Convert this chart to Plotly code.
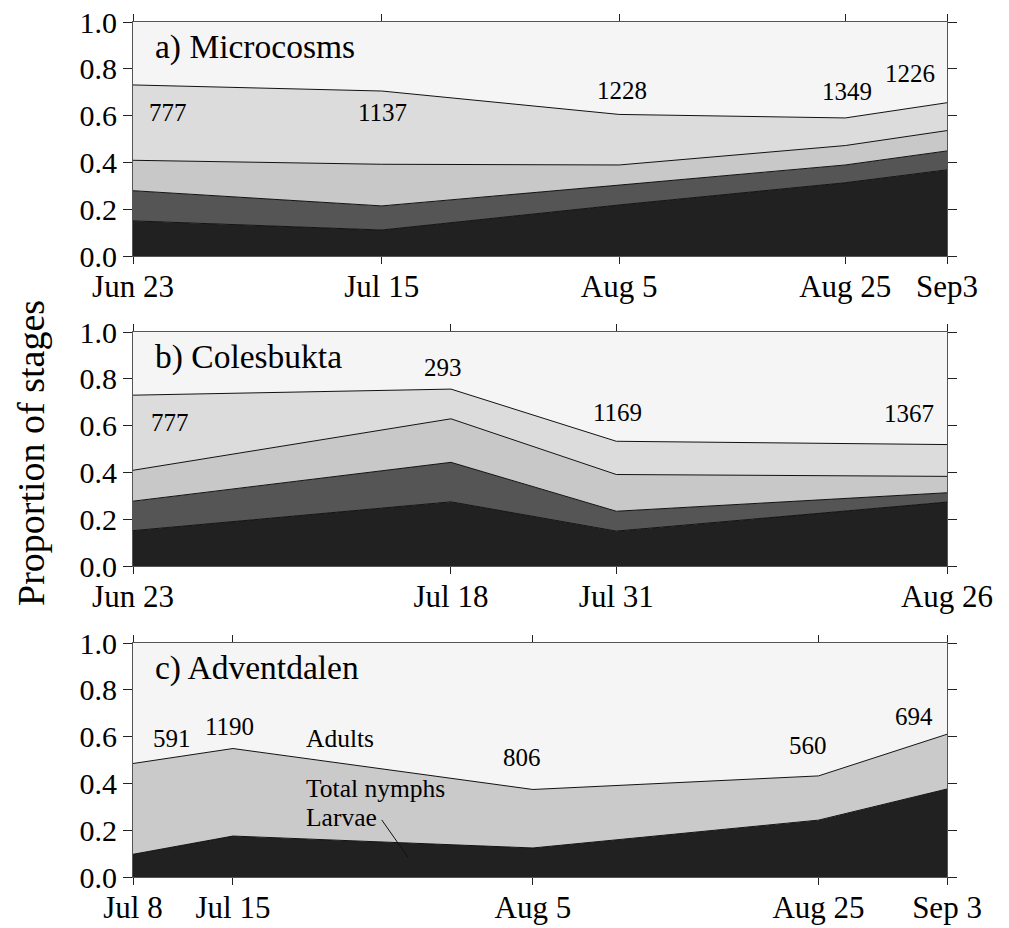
import plotly.graph_objects as go

# ---------------- data ----------------
stage_names = ["Larvae", "Nymph I", "Nymph II", "Nymph III", "Adults"]

# a) Microcosms
dates_a = ["2000-06-23", "2000-07-15", "2000-08-05", "2000-08-25", "2000-09-03"]
ticks_a = ["Jun 23", "Jul 15", "Aug 5", "Aug 25", "Sep3"]
larvae_a = [0.150, 0.111, 0.218, 0.313, 0.368]
n1_a = [0.129, 0.103, 0.085, 0.076, 0.081]
n2_a = [0.130, 0.178, 0.086, 0.083, 0.087]
n3_a = [0.322, 0.313, 0.216, 0.118, 0.119]
adults_a = [0.269, 0.295, 0.395, 0.410, 0.345]
counts_a = ["777", "1137", "1228", "1349", "1226"]

# b) Colesbukta
dates_b = ["2000-06-23", "2000-07-18", "2000-07-31", "2000-08-26"]
ticks_b = ["Jun 23", "Jul 18", "Jul 31", "Aug 26"]
larvae_b = [0.151, 0.274, 0.149, 0.273]
n1_b = [0.126, 0.169, 0.085, 0.040]
n2_b = [0.132, 0.186, 0.157, 0.070]
n3_b = [0.321, 0.127, 0.142, 0.136]
adults_b = [0.270, 0.244, 0.467, 0.481]
counts_b = ["777", "293", "1169", "1367"]

# c) Adventdalen
dates_c = ["2000-07-08", "2000-07-15", "2000-08-05", "2000-08-25", "2000-09-03"]
ticks_c = ["Jul 8", "Jul 15", "Aug 5", "Aug 25", "Sep 3"]
larvae_c = [0.097, 0.175, 0.124, 0.243, 0.376]
nymphs_c = [0.388, 0.374, 0.250, 0.189, 0.234]
adults_c = [0.515, 0.451, 0.626, 0.568, 0.390]
counts_c = ["591", "1190", "806", "560", "694"]

# ---------------- style ----------------
FONT = "Liberation Serif"
C_LARV = "#212121"
C_N1 = "#555555"
C_N2 = "#c8c8c8"
C_N3 = "#dcdcdc"
C_AD = "#f5f5f5"
C_NYM = "#cacaca"

W, H = 1009, 928
x0px, x1px = 133, 947
panels_px = [(22, 256), (332, 566), (643, 877)]

fig = go.Figure()


def add_stack(xaxis, yaxis, dates, layers, colors, group):
    for i, (vals, col) in enumerate(zip(layers, colors)):
        last = i == len(layers) - 1
        fig.add_trace(go.Scatter(
            x=dates, y=vals, xaxis=xaxis, yaxis=yaxis,
            stackgroup=group, mode="lines",
            line=dict(color="#111111", width=0 if last else 1),
            fillcolor=col, showlegend=False, hoverinfo="skip"))


add_stack("x", "y", dates_a, [larvae_a, n1_a, n2_a, n3_a, adults_a],
          [C_LARV, C_N1, C_N2, C_N3, C_AD], "a")
add_stack("x2", "y2", dates_b, [larvae_b, n1_b, n2_b, n3_b, adults_b],
          [C_LARV, C_N1, C_N2, C_N3, C_AD], "b")
add_stack("x3", "y3", dates_c, [larvae_c, nymphs_c, adults_c],
          [C_LARV, C_NYM, C_AD], "c")

ranges = [(dates_a[0], dates_a[-1]), (dates_b[0], dates_b[-1]), (dates_c[0], dates_c[-1])]
tickvals = [dates_a, dates_b, dates_c]
ticktexts = [ticks_a, ticks_b, ticks_c]

layout = dict(
    width=W, height=H, margin=dict(l=0, r=0, t=0, b=0, pad=0),
    paper_bgcolor="white", plot_bgcolor="white",
    font=dict(family=FONT, color="black"),
    showlegend=False,
)
for k, ((top, bot), rng, tv, tt) in enumerate(zip(panels_px, ranges, tickvals, ticktexts)):
    sfx = "" if k == 0 else str(k + 1)
    layout["xaxis" + sfx] = dict(
        domain=[x0px / W, x1px / W], anchor="y" + sfx, type="date",
        range=list(rng), tickvals=tv, ticktext=tt, automargin=False,
        showline=True, linecolor="#555555", linewidth=1, mirror="ticks",
        ticks="outside", ticklen=7, tickwidth=1, tickcolor="#222222",
        ticklabelstandoff=-4,
        showgrid=False, zeroline=False,
        tickfont=dict(family=FONT, size=31, color="black"))
    layout["yaxis" + sfx] = dict(
        domain=[1 - bot / H, 1 - top / H], anchor="x" + sfx, automargin=False,
        range=[0, 1], tickvals=[0, 0.2, 0.4, 0.6, 0.8, 1.0], tickformat=".1f",
        showline=True, linecolor="#555555", linewidth=1, mirror="ticks",
        ticks="outside", ticklen=9, tickwidth=1, tickcolor="#222222",
        showgrid=False, zeroline=False,
        tickfont=dict(family=FONT, size=30, color="black"))
fig.update_layout(**layout)

ann = []
# panel titles
titles = ["a) Microcosms", "b) Colesbukta", "c) Adventdalen"]
for k, t in enumerate(titles):
    sfx = "" if k == 0 else str(k + 1)
    ann.append(dict(text=t, x=0.025, y=0.893, xref="x" + sfx + " domain", yref="y" + sfx + " domain",
                    xanchor="left", yanchor="middle", showarrow=False,
                    font=dict(family=FONT, size=33.5, color="black")))

# sample sizes: (y, xshift) per sampling date
count_pos_a = [(0.615, 35), (0.615, 1), (0.709, 3), (0.701, 2), (0.782, -37)]
count_pos_b = [(0.615, 37), (0.850, -8), (0.654, 1), (0.650, -38)]
count_pos_c = [(0.594, 39), (0.645, -3), (0.509, -11), (0.560, -10), (0.688, -33)]
for sfx, dts, cnts, pos in [("", dates_a, counts_a, count_pos_a),
                            ("2", dates_b, counts_b, count_pos_b),
                            ("3", dates_c, counts_c, count_pos_c)]:
    for d, c, (yy, xs) in zip(dts, cnts, pos):
        ann.append(dict(text=c, x=d, y=yy, xref="x" + sfx, yref="y" + sfx,
                        xshift=xs, showarrow=False, xanchor="center", yanchor="middle",
                        font=dict(family=FONT, size=25, color="black")))

# stage labels in panel c
for txt, yy in [("Adults", 0.594), ("Total nymphs", 0.380), ("Larvae", 0.256)]:
    ann.append(dict(text=txt, x="2000-07-20", y=yy, xref="x3", yref="y3",
                    xanchor="left", yanchor="middle", showarrow=False,
                    font=dict(family=FONT, size=25.5, color="black")))

# y-axis title
ann.append(dict(text="Proportion of stages", x=31 / W, y=1 - 453 / H, xref="paper", yref="paper",
                textangle=-90, showarrow=False, xanchor="center", yanchor="middle",
                font=dict(family=FONT, size=38, color="black")))
fig.update_layout(annotations=ann)

# leader line from "Larvae"
fig.add_shape(type="line", xref="x3", yref="y3",
              x0="2000-07-25 10:00", y0=0.244, x1="2000-07-27 06:00", y1=0.085,
              line=dict(color="#111111", width=1))

fig.write_html("out.html")
